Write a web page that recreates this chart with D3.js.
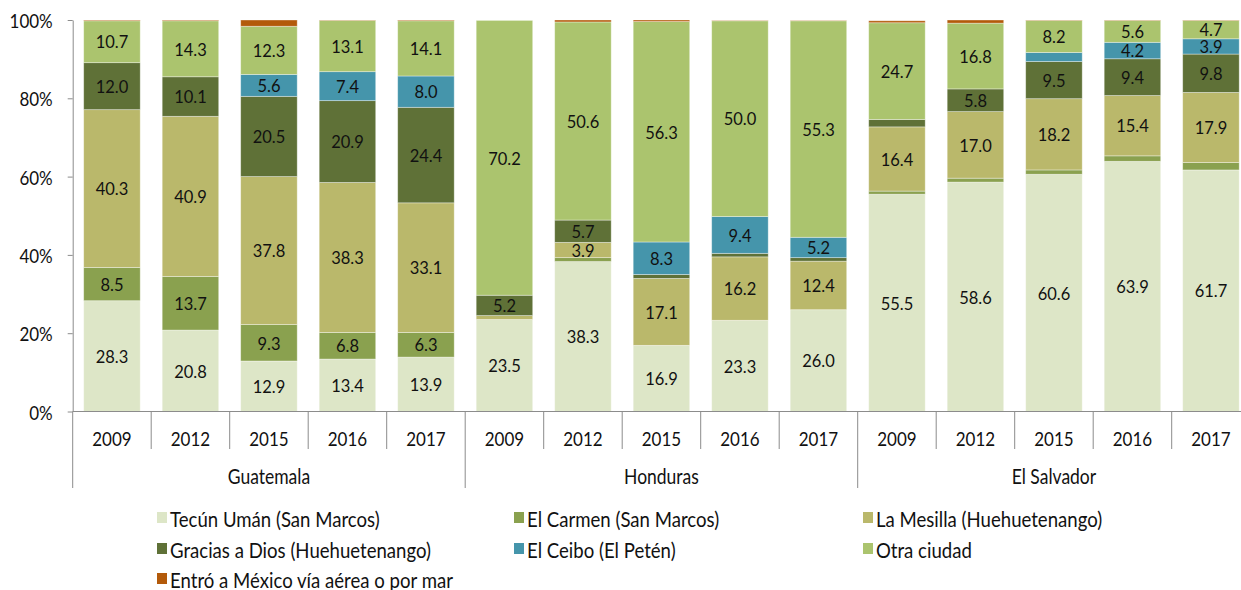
<!DOCTYPE html>
<html>
<head>
<meta charset="utf-8">
<script src="https://cdn.jsdelivr.net/npm/d3@7"></script>
<style>
  html, body { margin: 0; padding: 0; background: #fff; }
  svg { display: block; font-family: Lato, "Open Sans", sans-serif; }
</style>
</head>
<body>
<svg id="chart" width="1241" height="590"></svg>
<script>
// Punto de ingreso a México, por país de origen y año (%)
const countries = ["Guatemala", "Honduras", "El Salvador"];
const years = ["2009", "2012", "2015", "2016", "2017"];
const yTicks = [0, 20, 40, 60, 80, 100];

const seriesNames = [
  "Tecún Umán (San Marcos)",
  "El Carmen (San Marcos)",
  "La Mesilla (Huehuetenango)",
  "Gracias a Dios (Huehuetenango)",
  "El Ceibo (El Petén)",
  "Otra ciudad",
  "Entró a México vía aérea o por mar"
];
const seriesColors = ["#dde6c7", "#8aa14f", "#bab86b", "#5f7137", "#4595ab", "#abc46e", "#b35a0a"];

// Values by bar: Guatemala 2009..2017, Honduras 2009..2017, El Salvador 2009..2017
const tecunUman    = [28.3, 20.8, 12.9, 13.4, 13.9, 23.5, 38.3, 16.9, 23.3, 26.0, 55.5, 58.6, 60.6, 63.9, 61.7];
const elCarmen     = [ 8.5, 13.7,  9.3,  6.8,  6.3,  0.0,  1.0,  0.0,  0.0,  0.0,  0.8,  1.0,  1.1,  1.4,  1.9];
const laMesilla    = [40.3, 40.9, 37.8, 38.3, 33.1,  1.0,  3.9, 17.1, 16.2, 12.4, 16.4, 17.0, 18.2, 15.4, 17.9];
const graciasADios = [12.0, 10.1, 20.5, 20.9, 24.4,  5.2,  5.7,  1.0,  0.9,  0.9,  1.9,  5.8,  9.5,  9.4,  9.8];
const elCeibo      = [ 0.0,  0.0,  5.6,  7.4,  8.0,  0.0,  0.0,  8.3,  9.4,  5.2,  0.0,  0.0,  2.3,  4.2,  3.9];
const otraCiudad   = [10.7, 14.3, 12.3, 13.1, 14.1, 70.2, 50.6, 56.3, 50.0, 55.3, 24.7, 16.8,  8.2,  5.6,  4.7];
const viaAerea     = [ 0.2,  0.2,  1.6,  0.1,  0.2,  0.0,  0.5,  0.4,  0.1,  0.1,  0.5,  0.8,  0.1,  0.1,  0.1];

const seriesValues = [tecunUman, elCarmen, laMesilla, graciasADios, elCeibo, otraCiudad, viaAerea];

// Build one row per bar for the stack layout
const bars = [];
countries.forEach((c, ci) => years.forEach((yr, yi) => {
  const i = ci * years.length + yi;
  const row = { i, country: c, year: yr };
  seriesNames.forEach((s, si) => { row[s] = seriesValues[si][i]; });
  bars.push(row);
}));

const svg = d3.select("#chart");
const TEXT_SY = 1.18;          // vertical stretch of the lettering
const VALUE_SY = 1.08;         // value labels sit in tight segments
const FONT = 16.5;
const LEGEND_FONT = 18.6;
const axisColor = "#8c8c8c";

const plotLeft = 72.7, plotTop = 20, plotBottom = 411.5;
const step = 78.5;
const x = d3.scaleBand()
  .domain(d3.range(bars.length))
  .range([plotLeft, plotLeft + step * bars.length])
  .paddingInner(0.28)
  .paddingOuter(0.14);
const y = d3.scaleLinear().domain([0, 100]).range([plotBottom, plotTop]);

const stack = d3.stack().keys(seriesNames)(bars);

// helper: stretched text label centred on (px, py)
function label(parent, px, py, txt, anchor = "middle", size = FONT, sy = TEXT_SY) {
  parent.append("text")
    .attr("transform", `translate(${px},${py}) scale(1,${sy})`)
    .attr("text-anchor", anchor)
    .attr("dominant-baseline", "central")
    .attr("font-size", size)
    .attr("fill", "#111")
    .text(txt);
}

// bars
const layers = svg.append("g").selectAll("g")
  .data(stack).join("g")
  .attr("fill", (d, k) => seriesColors[k]);

layers.selectAll("rect")
  .data(d => d).join("rect")
  .attr("x", d => x(d.data.i))
  .attr("width", x.bandwidth())
  .attr("y", d => y(d[1]))
  .attr("height", d => Math.max(0, y(d[0]) - y(d[1])))
  .attr("stroke", "rgba(255,255,255,0.45)")
  .attr("stroke-width", 0.8);

// value labels
const labels = svg.append("g");
stack.forEach(layer => {
  layer.forEach(d => {
    const v = d[1] - d[0];
    if (v >= 3.5) {
      label(labels, x(d.data.i) + x.bandwidth() / 2, (y(d[0]) + y(d[1])) / 2,
            d3.format(".1f")(v), "middle", FONT, VALUE_SY);
    }
  });
});

// y axis
const yAxis = svg.append("g")
  .attr("transform", `translate(${plotLeft},0)`)
  .call(d3.axisLeft(y).tickValues(yTicks).tickFormat(d => d + "%").tickSize(5).tickSizeOuter(0).tickPadding(15));
yAxis.select(".domain").attr("stroke", axisColor);
yAxis.selectAll(".tick line").attr("stroke", axisColor);
yAxis.selectAll(".tick text")
  .attr("font-size", 17)
  .attr("font-family", "Lato, 'Open Sans', sans-serif")
  .attr("fill", "#111")
  .attr("dy", null)
  .attr("dominant-baseline", "central")
  .attr("transform", `scale(1,${TEXT_SY})`);

// x axis: baseline, year cells and country cells
const xa = svg.append("g").attr("stroke", axisColor).attr("stroke-width", 1);
xa.append("line").attr("x1", plotLeft).attr("x2", 1241).attr("y1", plotBottom).attr("y2", plotBottom);
const boundary = i => plotLeft + i * x.step();
for (let i = 0; i <= bars.length; i++) {
  const isCountry = i % years.length === 0;
  xa.append("line")
    .attr("x1", boundary(i)).attr("x2", boundary(i))
    .attr("y1", plotBottom).attr("y2", isCountry ? 488 : 449);
}
const xl = svg.append("g");
bars.forEach(d => label(xl, x(d.i) + x.bandwidth() / 2, 438, d.year, "middle", 17));
countries.forEach((c, ci) => {
  const a = boundary(ci * years.length), b = boundary((ci + 1) * years.length);
  label(xl, (a + b) / 2, 476, c, "middle", 17.5);
});

// legend
const legendCols = [157, 514, 863];
const legendRows = [518, 549, 579];
const lg = svg.append("g");
seriesNames.forEach((s, k) => {
  const lx = legendCols[k % 3], ly = legendRows[Math.floor(k / 3)];
  lg.append("rect").attr("x", lx).attr("y", ly - 6).attr("width", 10).attr("height", 11).attr("fill", seriesColors[k]);
  label(lg, lx + 13, ly, s, "start", LEGEND_FONT);
});
</script>
</body>
</html>
